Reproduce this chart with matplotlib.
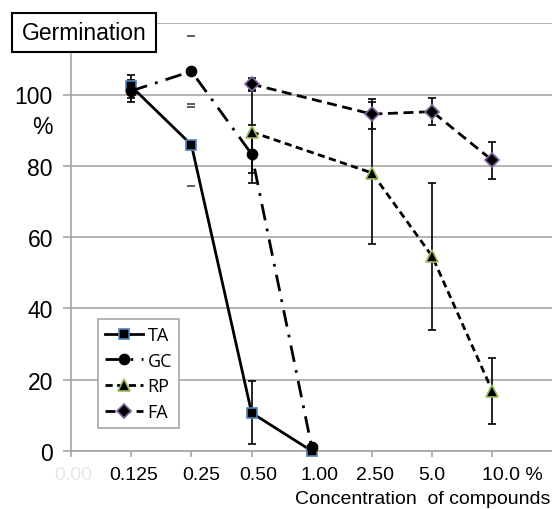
import matplotlib
matplotlib.use('Agg')
import matplotlib.pyplot as plt
import numpy as np
from matplotlib.patches import Rectangle
from matplotlib.transforms import ScaledTranslation

plt.rcParams['font.family'] = ['Liberation Sans', 'DejaVu Sans']

categories = ['0.00', '0.125', '0.25', '0.50', '1.00', '2.50', '5.0', '10.0 %']
nan = np.nan
ta = [nan, 102.3, 85.9, 10.7, 0.0, nan, nan, nan]
ta_err = [nan, 3.2, 11.5, 8.8, 0.0, nan, nan, nan]
gc = [nan, 101.0, 106.5, 83.3, 1.0, nan, nan, nan]
gc_err = [nan, 3.0, 10.0, 8.2, 0.0, nan, nan, nan]
rp = [nan, nan, nan, 89.5, nan, 78.0, 54.6, 16.8]
rp_err = [nan, nan, nan, 11.6, nan, 20.0, 20.6, 9.2]
fa = [nan, nan, nan, 102.9, nan, 94.5, 95.2, 81.5]
fa_err = [nan, nan, nan, 1.7, nan, 4.3, 3.8, 5.1]
caps_only_category = '0.25'
y_ticks = [0, 20, 40, 60, 80, 100]

W, H = 552, 510
fig = plt.figure(figsize=(W / 100, H / 100), dpi=100)
ax = fig.add_axes([71 / W, (H - 452) / H, 481.6 / W, 427.8 / H])
ax.set_xlim(0, 8)
ax.set_ylim(0, 120)

grid_c = '#a6a6a6'
for v in range(0, 121, 20):
    ax.axhline(v, color=grid_c, lw=1.2, zorder=0)

series = [
    ('TA', ta, ta_err, 's', '#4F81BD', '-', None, 7),
    ('GC', gc, gc_err, 'o', 'black', '-.', (6, 3, 1, 3), 7.2),
    ('RP', rp, rp_err, '^', '#9BBB59', '--', (2.6, 1.6), 8.5),
    ('FA', fa, fa_err, 'D', '#8064A2', '--', (3.6, 2.0), 7),
]

xpos = np.arange(len(categories))
ci = categories.index(caps_only_category)
for name, vals, errs, mk, ec, ls, dashes, ms in series:
    v = np.array(vals, float)
    e = np.array(errs, float)
    m = ~np.isnan(v)
    x = xpos[m]
    full = m & (xpos != ci) & (np.nan_to_num(e) > 0)
    ax.errorbar(xpos[full], v[full], yerr=e[full], fmt='none', ecolor='black',
                elinewidth=1.2, capsize=2.6, capthick=1.2, zorder=3)
    capm = m & (xpos == ci)
    if capm.any():
        ax.errorbar(xpos[capm], v[capm], yerr=e[capm], fmt='none', ecolor='#333333',
                    elinewidth=0, capsize=2.6, capthick=1.1, zorder=3)
    line, = ax.plot(x, v[m], color='black', lw=2.0, ls=ls, marker=mk, ms=ms,
                    mfc='black', mec=ec, mew=1.2, label=name, zorder=4, clip_on=False)
    if dashes is not None:
        line.set_dashes(dashes)

for s in ['top', 'right']:
    ax.spines[s].set_visible(False)
ax.spines['left'].set_color(grid_c)
ax.spines['left'].set_linewidth(1.2)
ax.spines['bottom'].set_color(grid_c)
ax.spines['bottom'].set_linewidth(1.2)

ax.set_yticks(y_ticks)
ax.set_yticklabels([str(t) for t in y_ticks], fontsize=16.5)
ax.tick_params(axis='y', length=6, width=1.2, color=grid_c, pad=7)

ax.set_xticks(xpos)
ax.set_xticklabels(categories, fontsize=14)
ax.tick_params(axis='x', length=4, width=1.2, color=grid_c, pad=7)
offsets_px = [2, 2, 10, 7, 8, 3, 0, 20]
for lab, dx in zip(ax.get_xticklabels(), offsets_px):
    lab.set_transform(lab.get_transform() + ScaledTranslation(dx / 100, 0, fig.dpi_scale_trans))
ax.get_xticklabels()[0].set_color('#e6e6e6')

fig.text(550 / W, 1 - 500 / H, 'Concentration  of compounds', fontsize=14,
         ha='right', va='center')
fig.text(53 / W, 1 - 128 / H, '%', fontsize=16.5, ha='right', va='center')

fig.add_artist(Rectangle((12 / W, 1 - 53 / H), 144 / W, 39 / H, transform=fig.transFigure,
                         facecolor='white', edgecolor='black', lw=1.5, zorder=10))
fig.text(84 / W, 1 - 34 / H, 'Germination', fontsize=16.5, ha='center', va='center', zorder=11)

leg = ax.legend(loc='upper left', bbox_to_anchor=(98 / W, 1 - 320 / H),
                bbox_transform=fig.transFigure, borderaxespad=0,
                handlelength=2.1, handletextpad=0.25, labelspacing=0.42,
                fancybox=False, framealpha=1, edgecolor='#a6a6a6',
                borderpad=0.4, prop={'family': 'Open Sans', 'size': 13})
leg.get_frame().set_linewidth(1.2)

fig.savefig('out.png', dpi=100)
